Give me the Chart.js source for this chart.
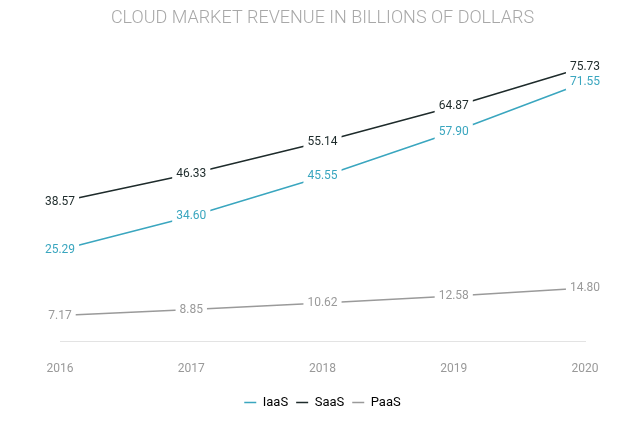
<!DOCTYPE html>
<html><head>
<script src="https://cdn.jsdelivr.net/npm/chart.js@4"></script>
<style>body{margin:0;background:#fff}#wrap{width:640px;height:425px}</style>
</head><body><div id="wrap"><canvas id="c"></canvas></div>
<script>
const years = ['2016', '2017', '2018', '2019', '2020'];
const iaas = [25.29, 34.60, 45.55, 57.90, 71.55];
const saas = [38.57, 46.33, 55.14, 64.87, 75.73];
const paas = [7.17, 8.85, 10.62, 12.58, 14.80];

// etiquetas de valores sobre los puntos
const valueLabels = {
  id: 'valueLabels',
  afterDatasetsDraw(chart) {
    const ctx = chart.ctx;
    ctx.save();
    ctx.font = '12px Roboto';
    ctx.textAlign = 'center';
    ctx.textBaseline = 'middle';
    chart.data.datasets.forEach((ds, i) => {
      chart.getDatasetMeta(i).data.forEach((pt, j) => {
        const txt = ds.data[j].toFixed(2);
        const w = ctx.measureText(txt).width + 8;
        ctx.fillStyle = '#fff';
        ctx.fillRect(pt.x - w / 2, pt.y - 8, w, 16);
        ctx.fillStyle = ds.borderColor;
        ctx.fillText(txt, pt.x, pt.y);
      });
    });
    ctx.restore();
  }
};

new Chart(document.getElementById('c'), {
  type: 'line',
  data: {
    labels: years,
    datasets: [
      { label: 'IaaS', data: iaas, borderColor: '#3aa6bf', borderWidth: 1.5, pointRadius: 0 },
      { label: 'SaaS', data: saas, borderColor: '#1e2b2b', borderWidth: 1.5, pointRadius: 0 },
      { label: 'PaaS', data: paas, borderColor: '#9a9a9a', borderWidth: 1.5, pointRadius: 0 }
    ]
  },
  options: {
    responsive: true,
    maintainAspectRatio: false,
    animation: false,
    layout: { padding: { left: 60, right: 55, top: 0, bottom: 6 } },
    plugins: {
      title: {
        display: true,
        text: 'CLOUD MARKET REVENUE IN BILLIONS OF DOLLARS',
        color: '#a8a8a8',
        font: { family: 'Roboto', size: 18, weight: '300' },
        padding: { top: 8, bottom: 22 }
      },
      legend: {
        position: 'bottom',
        labels: {
          color: '#888',
          font: { family: 'Roboto', size: 13 },
          boxWidth: 12,
          boxHeight: 0,
          padding: 8,
          generateLabels(chart) {
            return chart.data.datasets.map((ds, i) => ({
              text: ds.label,
              strokeStyle: ds.borderColor,
              fillStyle: ds.borderColor,
              lineWidth: 1.5,
              lineDash: [3, 3],
              datasetIndex: i
            }));
          }
        }
      },
      tooltip: { enabled: false }
    },
    scales: {
      x: {
        offset: false,
        grid: { display: false },
        border: { color: '#e3e3e3' },
        ticks: { color: '#999', font: { family: 'Roboto', size: 12 }, padding: 12 }
      },
      y: { display: false, min: 0, max: 80 }
    }
  },
  plugins: [valueLabels]
});
</script></body></html>
